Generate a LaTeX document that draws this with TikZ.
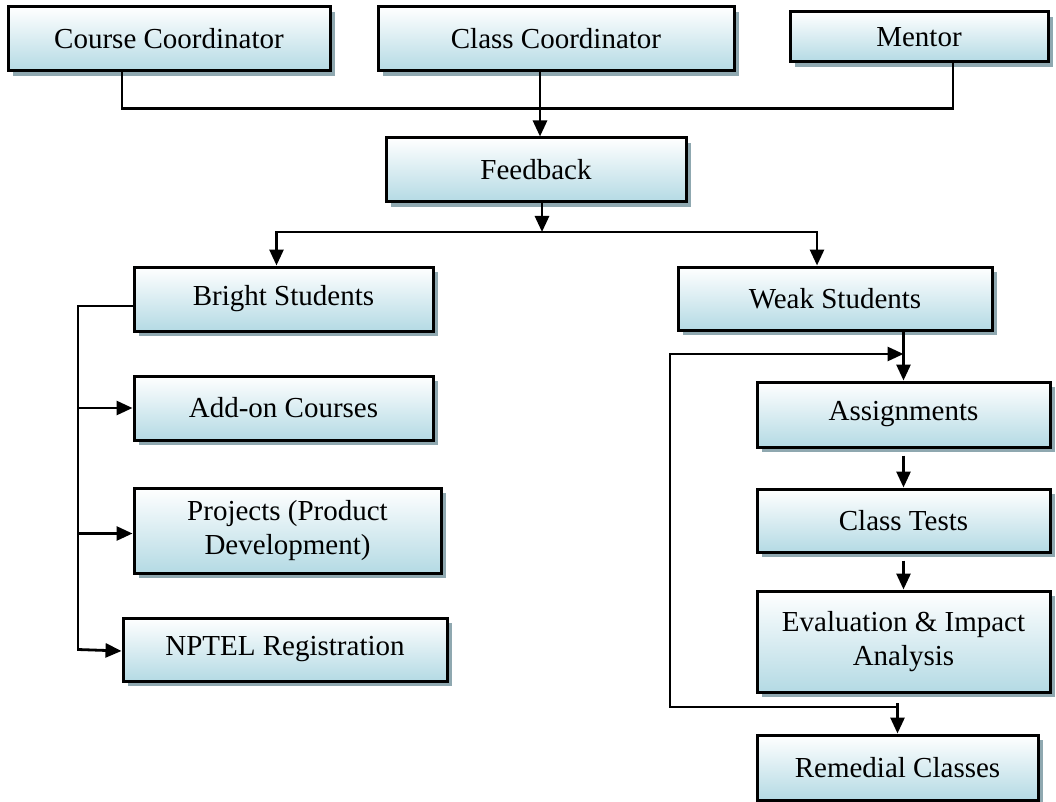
\documentclass[tikz,border=0pt]{standalone}
\usepackage{fontspec}
\setmainfont{Liberation Serif}
\usetikzlibrary{arrows.meta,shadows}
\definecolor{boxblue}{RGB}{180,218,228}
\definecolor{shadowgray}{RGB}{143,168,176}
\tikzset{
    box/.style={draw, line width=3pt, top color=white, bottom color=boxblue,
            align=center, inner sep=0pt, font=\fontsize{29}{34}\selectfont,
            drop shadow={shadow xshift=5pt, shadow yshift=-5pt, fill=shadowgray, opacity=1}},
    link/.style={line width=2.8pt},
    arrow/.style={line width=2.8pt, -{Triangle[length=16pt,width=14pt]}}
}
\begin{document}
\begin{tikzpicture}[x=1pt, y=-1pt]
        \useasboundingbox (0,0) rectangle (1056,802);
        \node[box, minimum width=322pt, minimum height=64pt] (cc) at (169, 39) {Course Coordinator};
        \node[box, minimum width=356pt, minimum height=64pt] (clc) at (556, 39) {Class Coordinator};
        \node[box, minimum width=258pt, minimum height=50pt] (mentor) at (919, 37) {Mentor};
        \node[box, minimum width=300pt, minimum height=64pt] (fb) at (536, 170) {Feedback};
        \node[box, minimum width=299pt, minimum height=64pt] (bright) at (283.5, 299) {Bright Students};
        \node[box, minimum width=299pt, minimum height=64pt] (addon) at (283.5, 408) {Add-on Courses};
        \node[box, minimum width=307pt, minimum height=85pt] (proj) at (287.5, 530.5) {Projects (Product\\Development)};
        \node[box, minimum width=324pt, minimum height=63pt] (nptel) at (285, 649.5) {NPTEL Registration};
        \node[box, minimum width=314pt, minimum height=63pt] (weak) at (835, 298.5) {Weak Students};
        \node[box, minimum width=293pt, minimum height=65pt] (assign) at (903.5, 414.5) {Assignments};
        \node[box, minimum width=293pt, minimum height=63pt] (tests) at (903.5, 520.5) {Class Tests};
        \node[box, minimum width=293pt, minimum height=101pt] (eval) at (903.5, 641.5) {Evaluation \& Impact\\Analysis};
        \node[box, minimum width=281pt, minimum height=65pt] (remedial) at (897.5, 767.5) {Remedial Classes};
        \coordinate (split) at (542, 232);
        \coordinate (rail) at (78, 651);
        \coordinate (loopin) at (903.5, 354);
        \coordinate (loopout) at (897.5, 707);
        \draw[link] ([xshift=-47pt]cc.south) -- ++(0, 36) -| ([xshift=34pt]mentor.south);
        \draw[arrow] ([xshift=-16pt]clc.south) -- ([xshift=-16pt]clc.south |- fb.north);
        \draw[arrow] ([xshift=6pt]fb.south) -- (split);
        \draw[arrow] (split) -| ([xshift=-7pt]bright.north);
        \draw[arrow] (split) -| ([xshift=-18pt]weak.north);
        \draw[link] ([yshift=-7pt]bright.west) -| (rail);
        \draw[arrow] (addon.west -| rail) -- (addon.west);
        \draw[arrow] ([yshift=-3pt]proj.west -| rail) -- ([yshift=-3pt]proj.west);
        \draw[arrow] (nptel.west -| rail) -- (nptel.west |- rail);
        \draw[arrow] (weak.south -| assign.north) -- (assign.north);
        \draw[arrow] ([yshift=-7pt]assign.south) -- (tests.north);
        \draw[arrow] ([yshift=-7pt]tests.south) -- (eval.north);
        \draw[arrow] (loopout) -- ++(-227.5, 0) |- (loopin);
        \draw[arrow] ([yshift=4pt]loopout) -- (remedial.north);
\end{tikzpicture}
\end{document}
